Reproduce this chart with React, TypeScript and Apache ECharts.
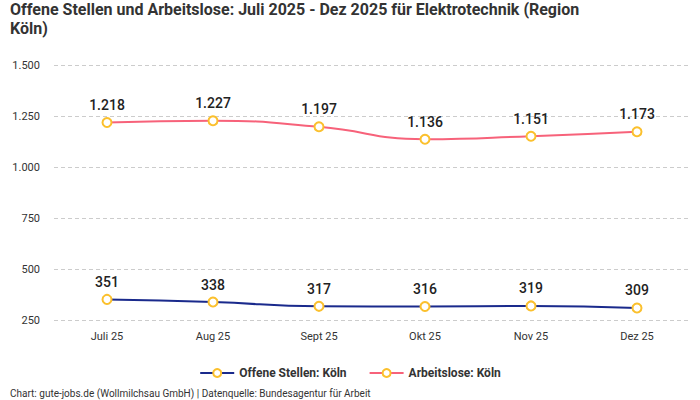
import { useEffect, useRef } from "react";
import * as echarts from "echarts";

const FONT = "Roboto, 'Noto Sans', sans-serif";

const months = ["Juli 25", "Aug 25", "Sept 25", "Okt 25", "Nov 25", "Dez 25"];
const offeneStellen = [351, 338, 317, 316, 319, 309];
const arbeitslose = [1218, 1227, 1197, 1136, 1151, 1173];

const TITLE =
  "Offene Stellen und Arbeitslose: Juli 2025 - Dez 2025 für Elektrotechnik (Region\nKöln)";
const SOURCE =
  "Chart: gute-jobs.de (Wollmilchsau GmbH) | Datenquelle: Bundesagentur für Arbeit";

function formatDe(value: number) {
  return new Intl.NumberFormat("de-DE").format(value);
}

function lineSeries(name: string, data: number[], color: string) {
  return {
    name,
    type: "line",
    smooth: true,
    data,
    symbol: "circle",
    symbolSize: 9,
    lineStyle: { width: 2, color },
    itemStyle: { color: "#ffffff", borderColor: "#fbc02d", borderWidth: 2 },
    label: {
      show: true,
      position: "top",
      distance: 5,
      formatter: (p: { value: number }) => formatDe(p.value),
      color: "#222222",
      fontSize: 14,
      fontWeight: 500,
      fontFamily: FONT,
    },
  };
}

export default function App() {
  const chartRef = useRef<HTMLDivElement>(null);

  useEffect(() => {
    if (!chartRef.current) {
      return;
    }
    const chart = echarts.init(chartRef.current, undefined, { renderer: "svg" });

    chart.setOption({
      animation: false,
      textStyle: { fontFamily: FONT },
      title: [
        {
          text: TITLE,
          left: 10,
          top: 0,
          padding: 0,
          textStyle: {
            fontFamily: FONT,
            fontSize: 16,
            fontWeight: "bold",
            color: "#333333",
            lineHeight: 19,
          },
        },
        {
          text: SOURCE,
          left: 10,
          top: 387,
          padding: 0,
          textStyle: {
            fontFamily: FONT,
            fontSize: 10,
            fontWeight: "normal",
            color: "#333333",
            lineHeight: 12,
          },
        },
      ],
      legend: {
        top: 362,
        left: "center",
        itemWidth: 34,
        itemHeight: 10,
        itemGap: 22,
        textStyle: {
          fontFamily: FONT,
          fontSize: 12,
          fontWeight: "bold",
          color: "#333333",
        },
        data: [
          { name: "Offene Stellen: Köln", itemStyle: { color: "#ffffff", borderColor: "#fbc02d", borderWidth: 2 } },
          { name: "Arbeitslose: Köln", itemStyle: { color: "#ffffff", borderColor: "#fbc02d", borderWidth: 2 } },
        ],
      },
      grid: { left: 54, right: 10, top: 65, bottom: 80 },
      xAxis: {
        type: "category",
        data: months,
        boundaryGap: true,
        axisLine: { show: false },
        axisTick: { show: false },
        axisLabel: { color: "#333333", fontSize: 11, margin: 11, fontFamily: FONT },
      },
      yAxis: {
        type: "value",
        min: 250,
        max: 1500,
        interval: 250,
        axisLabel: {
          color: "#333333",
          fontSize: 11,
          margin: 14,
          fontFamily: FONT,
          formatter: (v: number) => formatDe(v),
        },
        splitLine: { lineStyle: { color: "#cccccc", type: [4, 3] } },
      },
      series: [
        lineSeries("Offene Stellen: Köln", offeneStellen, "#1a2a8c"),
        lineSeries("Arbeitslose: Köln", arbeitslose, "#f7627a"),
      ],
    });

    return () => {
      chart.dispose();
    };
  }, []);

  return (
    <div
      ref={chartRef}
      style={{ position: "fixed", left: 0, top: 0, width: 700, height: 400, background: "#ffffff" }}
    />
  );
}
